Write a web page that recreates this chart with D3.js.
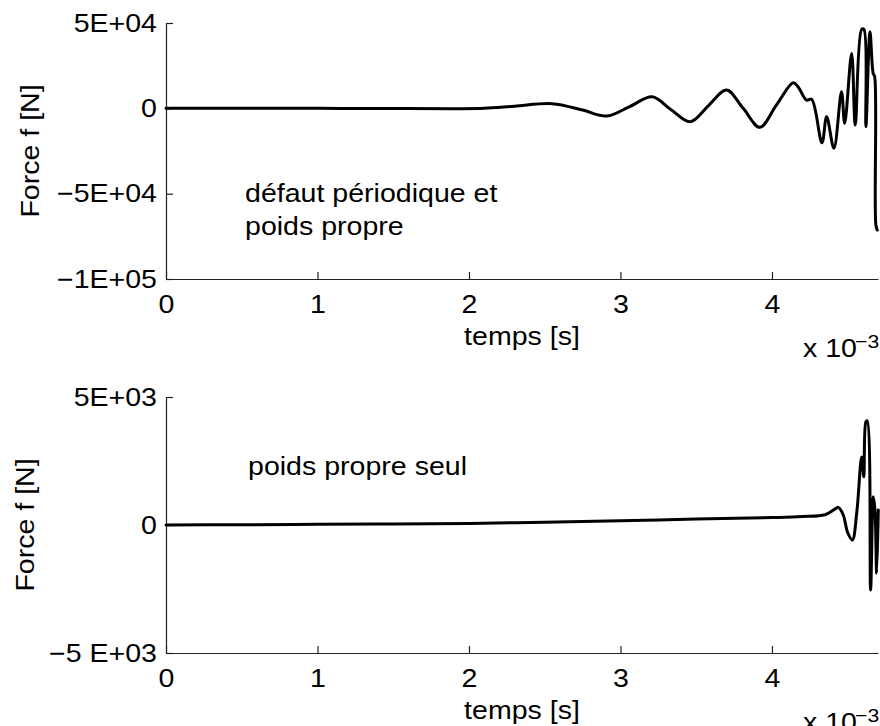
<!DOCTYPE html>
<html>
<head>
<meta charset="utf-8">
<script src="https://cdn.jsdelivr.net/npm/d3@7"></script>
<style>
  html, body { margin: 0; padding: 0; background: #fff; }
  svg { display: block; }
  text { font-family: "Liberation Sans", Arial, Helvetica, sans-serif; fill: #000; }
</style>
</head>
<body>
<svg id="chart" width="880" height="726"></svg>
<script>
// ---- Data (time in ms, i.e. x 10^-3 s ; force in N) ----
const topTime = [0, 0.5, 1.0, 1.5, 1.9, 2.1, 2.3, 2.55, 2.75, 2.91, 3.06, 3.21, 3.33, 3.46, 3.58, 3.70, 3.81, 3.92, 4.03, 4.14, 4.172, 4.228, 4.262, 4.33, 4.361, 4.409, 4.459, 4.48, 4.526, 4.55, 4.592, 4.607, 4.62, 4.647, 4.668, 4.678, 4.686, 4.695];
const topForce = [0, 0, 0, -100, -200, 0, 1200, 2700, -1000, -4500, 1000, 6800, -500, -7850, 1500, 10700, 0, -11100, 2000, 15000, 12650, 4860, 5270, -20200, -4900, -23400, 9700, -8800, 32200, -9800, 46300, 46300, -10800, 44900, 20500, 18500, -68400, -71300];

const botTime = [0, 0.5, 1.0, 1.5, 2.0, 2.5, 3.0, 3.5, 4.0, 4.2, 4.35, 4.41, 4.438, 4.47, 4.50, 4.531, 4.56, 4.592, 4.606, 4.62, 4.629, 4.651, 4.669, 4.68, 4.691, 4.702];
const botForce = [0, 10, 25, 40, 60, 110, 170, 230, 290, 330, 400, 600, 690, 400, -300, -585, 500, 2660, 1880, 4030, 4070, -2540, 1100, 585, -1880, 585];

const xTicks = [0, 1, 2, 3, 4];
const xTickLabels = ["0", "1", "2", "3", "4"];
const topYTicks = [50000, 0, -50000, -100000];
const topYTickLabels = ["5E+04", "0", "\u22125E+04", "\u22121E+05"];
const botYTicks = [5000, 0, -5000];
const botYTickLabels = ["5E+03", "0", "\u22125 E+03"];

const xDomain = [0, 4.7];
const topYDomain = [-100000, 50000];
const botYDomain = [-5000, 5000];

const xLabel = "temps [s]";
const yLabel = "Force f [N]";
const expBase = "x 10";
const expPow = "\u22123";
const topNote = ["d\u00e9faut p\u00e9riodique et", "poids propre"];
const botNote = ["poids propre seul"];

// ---- Layout ----
const FS = 25.5, SX = 1.12;
const svg = d3.select("#chart");
const left = 166, right = 878;

function stretch(sel) {
  sel.each(function () {
    const t = d3.select(this);
    const x = +t.attr("x") || 0, y = +t.attr("y") || 0;
    const prev = t.attr("data-rot");
    t.attr("x", 0).attr("y", 0)
     .attr("transform", `translate(${x},${y})` + (prev ? ` rotate(${prev})` : "") + ` scale(${SX},1)`);
  });
}

function panel(cfg) {
  const x = d3.scaleLinear().domain(xDomain).range([left, right]);
  const y = d3.scaleLinear().domain(cfg.yDomain).range([cfg.bottom, cfg.top]);
  const g = svg.append("g");

  const xAxis = d3.axisBottom(x).tickValues(xTicks)
    .tickFormat((d, i) => xTickLabels[i]).tickSize(-7).tickSizeOuter(0).tickPadding(16);
  const gx = g.append("g").attr("transform", `translate(0,${cfg.bottom})`).call(xAxis);
  const yAxis = d3.axisLeft(y).tickValues(cfg.yTicks)
    .tickFormat((d, i) => cfg.yTickLabels[i]).tickSize(-7).tickSizeOuter(0).tickPadding(9);
  const gy = g.append("g").attr("transform", `translate(${left},0)`).call(yAxis);

  [gx, gy].forEach(a => {
    a.select(".domain").attr("stroke", "#222").attr("stroke-width", 1.2);
    a.selectAll(".tick line").attr("stroke", "#222").attr("stroke-width", 1.2);
    a.selectAll("text").attr("font-size", FS).attr("font-family", null).attr("fill", "#000");
    stretch(a.selectAll("text"));
  });

  const line = d3.line().x(d => x(d[0])).y(d => y(d[1])).curve(d3.curveCatmullRom.alpha(0.5));
  const pts = cfg.t.map((t, i) => [t, cfg.f[i]]);
  g.append("path").datum(pts).attr("d", line)
    .attr("fill", "none").attr("stroke", "#000").attr("stroke-width", 3)
    .attr("stroke-linejoin", "round").attr("stroke-linecap", "round");

  const texts = g.append("g").attr("font-size", FS);
  texts.append("text").attr("x", (left + right) / 2).attr("y", cfg.bottom + 66)
    .attr("text-anchor", "middle").text(xLabel);
  texts.append("text").attr("x", cfg.yLabelX).attr("y", (cfg.top + cfg.bottom) / 2)
    .attr("data-rot", -90).attr("text-anchor", "middle").text(yLabel);
  texts.append("text").attr("x", 803).attr("y", cfg.bottom + 78).text(expBase);
  texts.append("text").attr("x", 855).attr("y", cfg.bottom + 69).attr("font-size", 19).text(expPow);
  cfg.note.forEach((s, i) => {
    texts.append("text").attr("x", cfg.noteX).attr("y", cfg.noteY + i * 33).text(s);
  });
  stretch(texts.selectAll("text"));
}

panel({ top: 23, bottom: 279, yDomain: topYDomain, yTicks: topYTicks, yTickLabels: topYTickLabels,
        t: topTime, f: topForce, yLabelX: 39, note: topNote, noteX: 245, noteY: 202 });
panel({ top: 397, bottom: 653, yDomain: botYDomain, yTicks: botYTicks, yTickLabels: botYTickLabels,
        t: botTime, f: botForce, yLabelX: 34, note: botNote, noteX: 248, noteY: 475 });
</script>
</body>
</html>
